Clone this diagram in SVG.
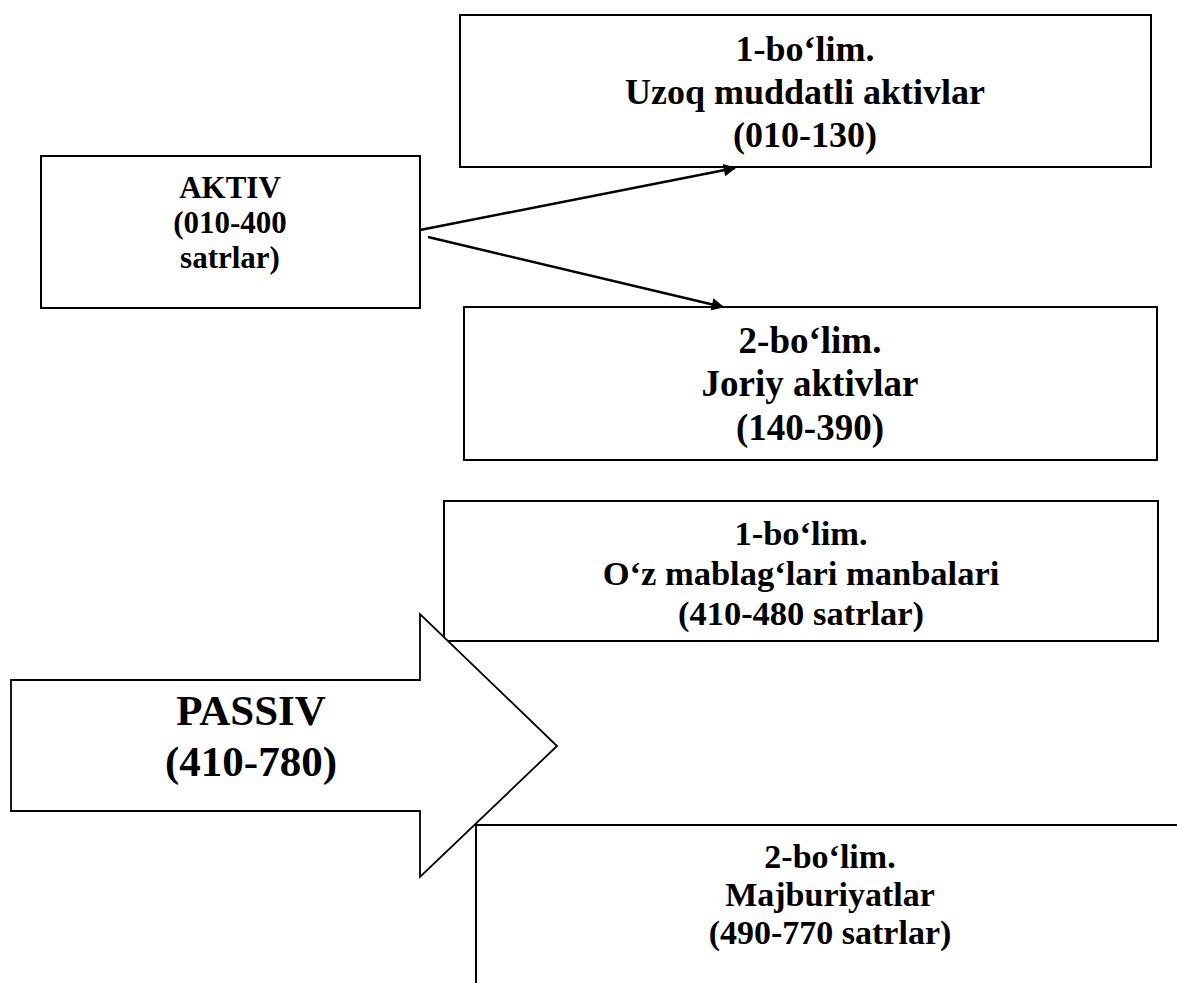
<svg xmlns="http://www.w3.org/2000/svg" width="1177" height="983" viewBox="0 0 1177 983">
<style>
.box{fill:#fff;stroke:#000;stroke-width:2}
.t{font-family:"Liberation Serif","Times New Roman",serif;font-weight:bold;fill:#000;text-anchor:middle}
.conn{stroke:#000;stroke-width:2.5;fill:none}
</style>
<defs>
<marker id="ah" viewBox="0 0 10 10" refX="9" refY="5" markerWidth="6" markerHeight="5" markerUnits="strokeWidth" orient="auto">
<path d="M0,0 L10,5 L0,10 Z" fill="#000"/>
</marker>
</defs>
<rect width="1177" height="983" fill="#fff"/>

<g id="aktiv">
<rect class="box" x="41" y="156" width="379" height="152"/>
<text class="t" font-size="31"><tspan x="230" y="198">AKTIV</tspan><tspan x="230" y="233">(010-400</tspan><tspan x="230" y="268">satrlar)</tspan></text>
</g>

<g id="uzoq">
<rect class="box" x="460" y="15" width="691" height="152"/>
<text class="t" font-size="36"><tspan x="805" y="61">1-bo‘lim.</tspan><tspan x="805" y="104">Uzoq muddatli aktivlar</tspan><tspan x="805" y="147">(010-130)</tspan></text>
</g>

<g id="joriy">
<rect class="box" x="464" y="307" width="693" height="153"/>
<text class="t" font-size="37"><tspan x="810" y="353">2-bo‘lim.</tspan><tspan x="810" y="396">Joriy aktivlar</tspan><tspan x="810" y="440">(140-390)</tspan></text>
</g>

<g id="ozmablag">
<rect class="box" x="444" y="501" width="714" height="140"/>
<text class="t" font-size="34.5"><tspan x="801" y="545">1-bo‘lim.</tspan><tspan x="801" y="585">O‘z mablag‘lari manbalari</tspan><tspan x="801" y="625">(410-480 satrlar)</tspan></text>
</g>

<g id="majburiyat">
<path d="M1185,825 L476,825 L476,990" fill="#fff" stroke="#000" stroke-width="2"/>
<text class="t" font-size="34"><tspan x="830" y="868">2-bo‘lim.</tspan><tspan x="830" y="906">Majburiyatlar</tspan><tspan x="830" y="944">(490-770 satrlar)</tspan></text>
</g>

<g id="passiv">
<path d="M11,680 L420,680 L420,614 L557,746 L420,877 L420,811 L11,811 Z" fill="#fff" stroke="#000" stroke-width="1.8" stroke-linejoin="miter"/>
<text class="t" font-size="43"><tspan x="251" y="725">PASSIV</tspan><tspan x="251" y="776">(410-780)</tspan></text>
</g>

<g id="connectors">
<line class="conn" x1="420" y1="230" x2="735" y2="168" marker-end="url(#ah)"/>
<line class="conn" x1="428" y1="237" x2="723" y2="307" marker-end="url(#ah)"/>
</g>
</svg>
